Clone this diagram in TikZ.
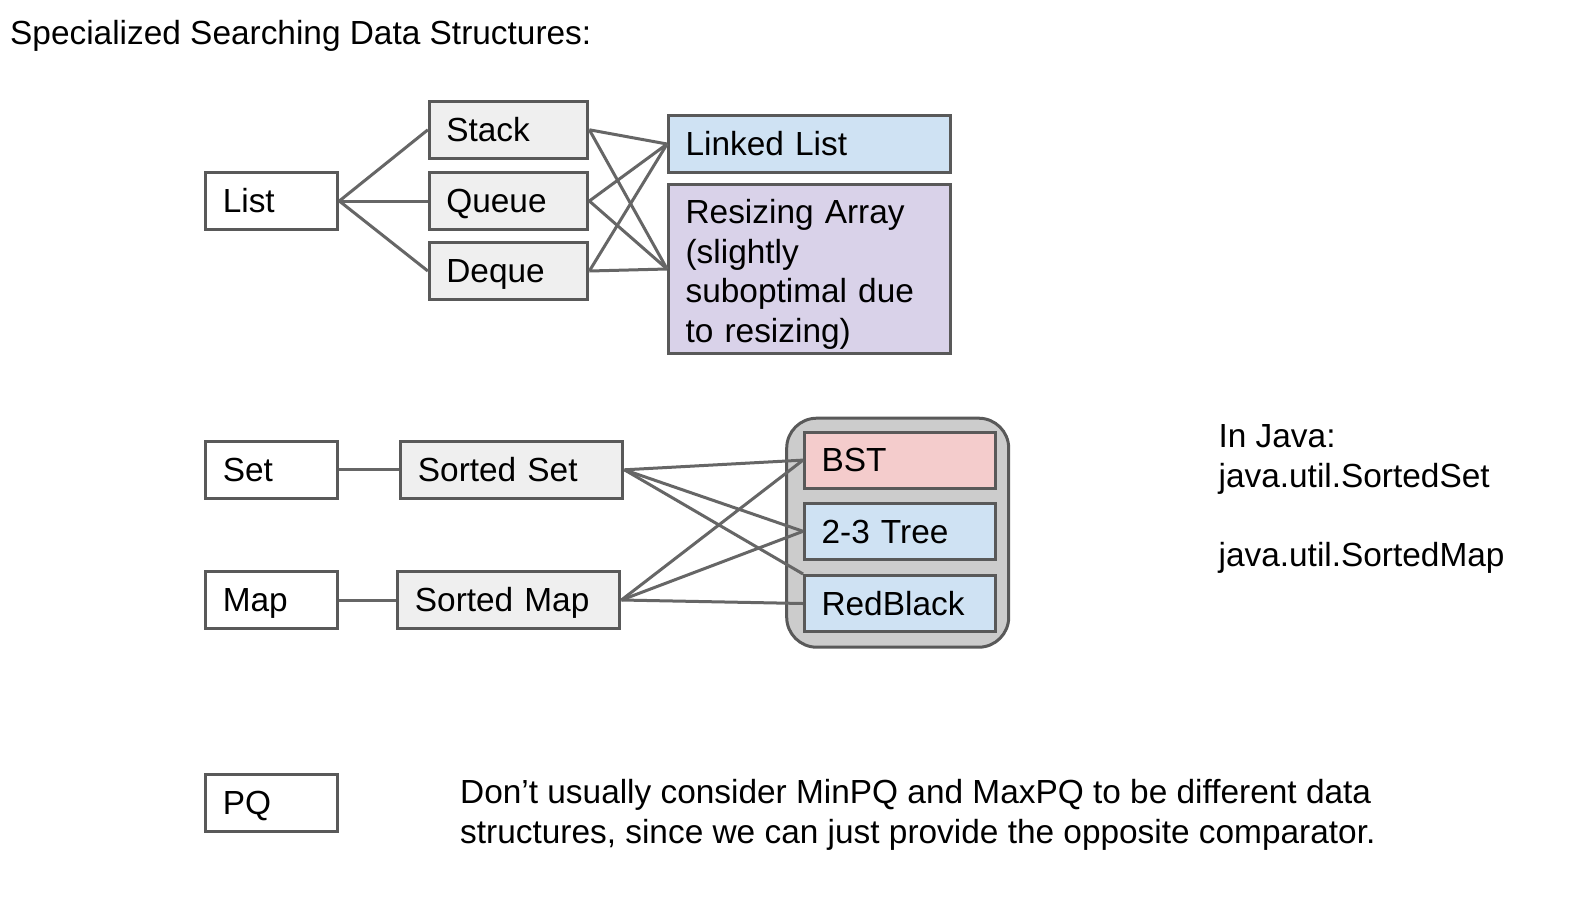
\documentclass[tikz,border=0pt]{standalone}
\usepackage{fontspec}
\setmainfont{Liberation Sans}
\definecolor{bordc}{HTML}{595959}
\definecolor{linec}{HTML}{666666}
\definecolor{boxgray}{HTML}{EFEFEF}
\definecolor{llblue}{HTML}{CFE2F3}
\definecolor{rapurple}{HTML}{D9D2E9}
\definecolor{bstred}{HTML}{F4CCCC}
\definecolor{contgray}{HTML}{CCCCCC}
\begin{document}
\begin{tikzpicture}[x=1pt,y=-1pt,
  txt/.style={font=\fontsize{33.4}{39.6}\selectfont},
  box/.style={txt, draw=bordc, line width=3pt, rectangle, inner xsep=17pt, inner ysep=0pt,
    align=left, text height=23.6pt, text depth=0pt, minimum height=57pt},
  small/.style={box, fill=white, text width=98pt, minimum width=132pt},
  mid/.style={box, fill=boxgray, text width=124.5pt, minimum width=158.5pt},
  sorted/.style={box, fill=boxgray, text width=188pt, minimum width=222pt},
  tree/.style={box, text width=156.5pt, minimum width=190.5pt, minimum height=56pt},
  impl/.style={box, text width=248pt, minimum width=282pt},
  plain/.style={txt, inner sep=0pt, anchor=base west},
  conn/.style={draw=linec, line width=3pt},
]
\useasboundingbox (0,0) rectangle (1596,898);
\fill[white] (0,0) rectangle (1596,898);

\node[plain] (title) at (10,44.4) {Specialized Searching Data Structures:};

% container
\node[draw=bordc, fill=contgray, line width=3pt, rounded corners=30pt,
  minimum width=222pt, minimum height=229pt, inner sep=0pt] (cont) at (897.7,532.7) {};

\node[small] (list) at (271.8,201) {List};
\node[mid] (stack) at (508.6,129.8) {Stack};
\node[mid] (queue) at (508.6,201) {Queue};
\node[mid] (deque) at (508.6,271) {Deque};
\node[impl, fill=llblue] (ll) at (809.6,144) {Linked List};
\node[txt, draw=bordc, line width=3pt, fill=rapurple, inner xsep=17pt, inner ysep=0pt,
  align=left, text width=248pt, minimum width=282pt, minimum height=169pt] (ra) at (809.6,269)
  {\rule{0pt}{35pt}Resizing Array\\(slightly\\suboptimal due\\to resizing)};

\node[small] (set) at (271.8,469.8) {Set};
\node[small] (map) at (271.8,600) {Map};
\node[sorted] (sset) at (511.9,469.8) {Sorted Set};
\node[sorted] (smap) at (508.9,600) {Sorted Map};
\node[tree, fill=bstred] (bst) at (899.8,460.1) {BST};
\node[tree, fill=llblue] (ttt) at (899.8,531.3) {2-3 Tree};
\node[tree, fill=llblue] (rb) at (899.8,603.5) {RedBlack};

\node[small] (pq) at (271.8,802.6) {PQ};

\node[plain] (j1) at (1218.4,447.5) {In Java:};
\node[plain] (j2) at (1218.4,487.1) {java.util.SortedSet};
\node[plain] (j3) at (1218.4,566.3) {java.util.SortedMap};

\node[plain] (pq1) at (460,803.5) {Don’t usually consider MinPQ and MaxPQ to be different data};
\node[plain] (pq2) at (460,843.1) {structures, since we can just provide the opposite comparator.};

% connectors
\draw[conn] (list.east) -- (stack.west);
\draw[conn] (list.east) -- (queue.west);
\draw[conn] (list.east) -- (deque.west);
\draw[conn] (stack.east) -- (ll.west);
\draw[conn] (stack.east) -- (ra.west);
\draw[conn] (queue.east) -- (ll.west);
\draw[conn] (queue.east) -- (ra.west);
\draw[conn] (deque.east) -- (ll.west);
\draw[conn] (deque.east) -- (ra.west);

\draw[conn] (set.east) -- (sset.west);
\draw[conn] (map.east) -- (smap.west);
\draw[conn] (sset.east) -- (bst.west);
\draw[conn] (sset.east) -- (ttt.west);
\draw[conn] (sset.east) -- (rb.north west);
\draw[conn] (smap.east) -- (bst.west);
\draw[conn] (smap.east) -- (ttt.west);
\draw[conn] (smap.east) -- (rb.west);
\end{tikzpicture}
\end{document}
